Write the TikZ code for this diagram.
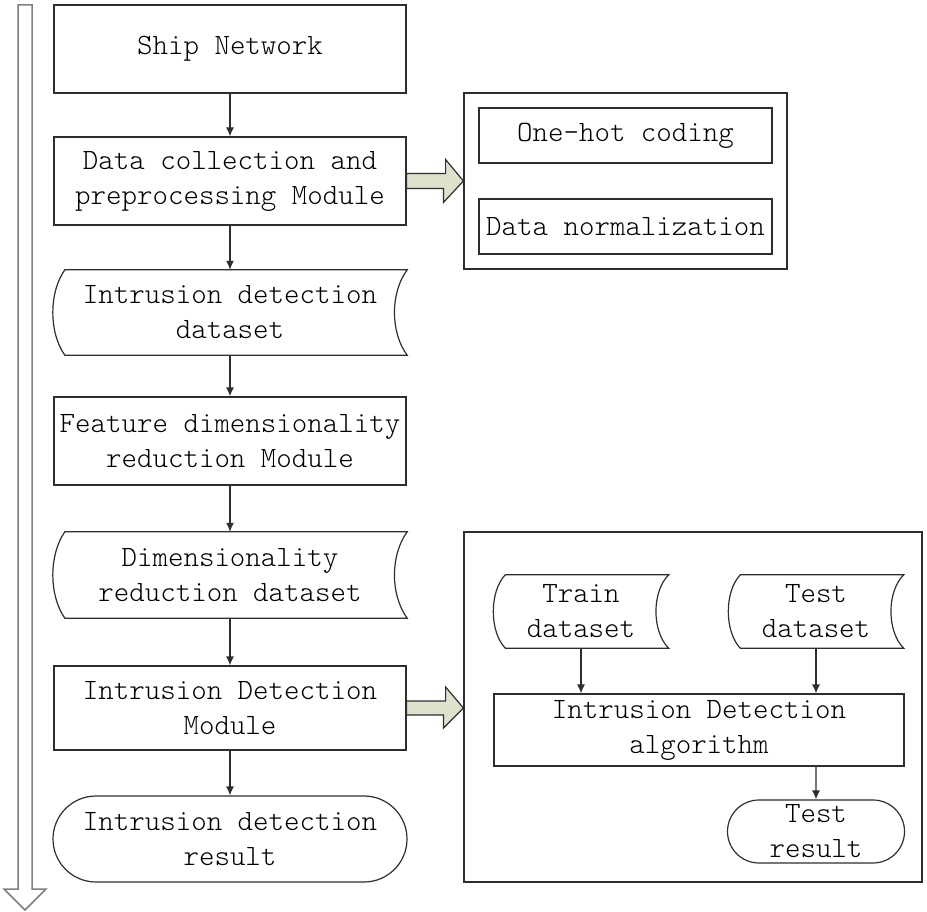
\documentclass[tikz,border=0pt]{standalone}
\usetikzlibrary{shapes.misc,arrows.meta,calc}
\definecolor{edge}{HTML}{2E2E2E}
\definecolor{fatfill}{HTML}{DCE2CC}
\definecolor{bigarrow}{HTML}{7F7F7F}

\begin{document}
\begin{tikzpicture}[x=1pt,y=-1pt,
    every node/.style={font=\fontfamily{lmtt}\fontseries{l}\fontsize{29.5}{35}\selectfont, align=center, inner sep=0pt},
    proc/.style={draw=edge, line width=1.2pt, minimum width=352pt, minimum height=88pt},
    store/.style={minimum width=354pt, minimum height=85pt},
    term/.style={rounded rectangle, draw=edge, line width=1.2pt, minimum width=354pt, minimum height=86pt},
    panel/.style={draw=edge, line width=1.2pt},
    link/.style={draw=edge, line width=1.2pt, -{Latex[length=9pt,width=8pt]}},
    fat/.style={draw=edge, line width=1.2pt, fill=fatfill, line join=miter}]
    \useasboundingbox (0,0) rectangle (927,912);

    % Long process arrow on the left
    \draw[bigarrow, line width=1.5pt] (18,5) -- (32,5) -- (32,889) -- (46,889) -- (25,910) -- (4,889) -- (18,889) -- cycle;

    % Main column
    \node[proc] (ship) at (230,49) {Ship Network};
    \node[proc] (collect) at (230,181) {Data collection and\\preprocessing Module};
    \node[store] (idset) at (230,312.5) {Intrusion detection\\dataset};
    \node[proc] (featred) at (230,441) {Feature dimensionality\\reduction Module};
    \node[store, minimum height=86pt] (drset) at (230,575) {Dimensionality\\reduction dataset};
    \node[proc, minimum height=84pt] (idmod) at (230,708) {Intrusion Detection\\Module};
    \node[term] (idres) at (230,839) {Intrusion detection\\result};

    % Preprocessing panel
    \node[panel, minimum width=323pt, minimum height=176pt] (prebox) at (625.5,181) {};
    \node[panel, minimum width=293pt, minimum height=55pt] (onehot) at (625.5,135.5) {One-hot coding};
    \node[panel, minimum width=293pt, minimum height=55pt] (norm) at (625.5,226.5) {Data normalization};

    % Detection panel
    \node[panel, minimum width=458pt, minimum height=350pt] (algbox) at (693,707) {};
    \node[store, minimum width=175pt, minimum height=73pt] (train) at (581,611.5) {Train\\dataset};
    \node[store, minimum width=175pt, minimum height=73pt] (test) at (816,611.5) {Test\\dataset};
    \node[proc, minimum width=410pt, minimum height=72pt] (alg) at (699,730) {Intrusion Detection\\algorithm};
    \node[term, minimum width=177pt, minimum height=63pt] (testres) at (816,831.5) {Test\\result};

    % Stored data outlines
    \foreach \n in {idset,drset,train,test}{
        \draw[draw=edge, line width=1.2pt] ($(\n.north west)+(12,0)$) -- (\n.north east)
            .. controls ($(\n.east)+(-17,-20)$) and ($(\n.east)+(-17,20)$) .. (\n.south east)
            -- ($(\n.south west)+(12,0)$)
            .. controls ($(\n.west)+(-4,20)$) and ($(\n.west)+(-4,-20)$) .. cycle;
    }

    % Flow
    \draw[link] (ship) -- (collect);
    \draw[link] (collect) -- (idset);
    \draw[link] (idset) -- (featred);
    \draw[link] (featred) -- (drset);
    \draw[link] (drset) -- (idmod);
    \draw[link] (idmod) -- (idres);
    \draw[link] (train) -- (train |- alg.north);
    \draw[link] (test) -- (test |- alg.north);
    \draw[link] (testres |- alg.south) -- (testres);

    % Wide arrows into the panels
    \draw[fat] ($(collect.east)+(0,-7.5)$) -- ++(39,0) -- ++(0,-14) -- (collect.east -| prebox.west) -- ++(-20,21.5) -- ++(0,-14) -- ($(collect.east)+(0,7.5)$) -- cycle;
    \draw[fat] ($(idmod.east)+(0,-7)$) -- ++(39,0) -- ++(0,-14) -- (idmod.east -| algbox.west) -- ++(-20,20) -- ++(0,-13) -- ($(idmod.east)+(0,7)$) -- cycle;

\end{tikzpicture}
\end{document}
